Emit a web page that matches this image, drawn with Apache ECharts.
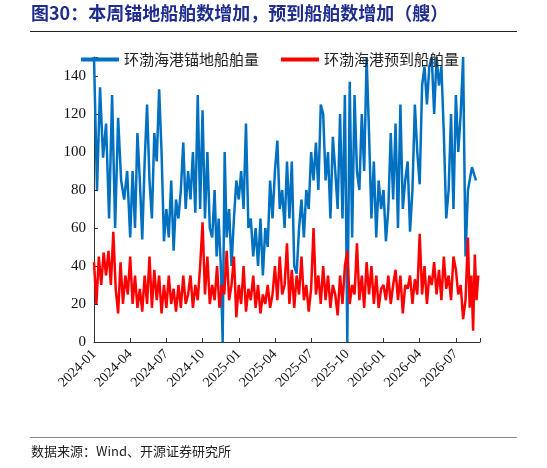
<!DOCTYPE html>
<html><head><meta charset="utf-8">
<script src="https://cdn.jsdelivr.net/npm/echarts@6/dist/echarts.min.js"></script>
<style>html,body{margin:0;padding:0;background:#fff}#chart{width:547px;height:468px}</style>
</head><body><div id="chart"></div>
<script>
// 月份起点 2024-01，每个子数组为当月数值（按月内等距排列）
var months = ["2024-01","2024-02","2024-03","2024-04","2024-05","2024-06","2024-07","2024-08","2024-09","2024-10","2024-11","2024-12",
  "2025-01","2025-02","2025-03","2025-04","2025-05","2025-06","2025-07","2025-08","2025-09","2025-10","2025-11","2025-12",
  "2026-01","2026-02","2026-03","2026-04","2026-05","2026-06","2026-07","2026-08"]
// 环渤海港锚地船舶量
var anchorage = [
  [150,80,134,97],[115,65,130,60],[118,85,75,90],[55,90,60,110,85],[54,95,125,85,65],[110,95,133,100,53],
  [70,55,85,48,75],[65,80,105,70,90],[75,100,68,130,70],[122,65,100,60,55],[80,45,65,42,0,100],[55,70,40,65,85],
  [75,90,70,115,60],[65,45,60,40,65],[35,60,50,85,65],[90,106,70,80,60],[95,65,95,40,36],[60,75,55,80,70],
  [100,85,105,80,125],[120,85,100,65,108],[90,70,120,65,130],[0,137,55,130,90],[80,120,90,150,110],[65,95,55,85,70],
  [80,53,70,110,75],[115,60,125,70,85],[95,58,80,125,100],[83,135,145,125,145],[150,120,150,135,145],[110,65,80,120,70],
  [130,100,120,150,45],[80,92,85]
]
// 环渤海港预到船舶量
var arriving = [
  [42,20,45,30,47],[35,48,30,58,28],[15,42,20,35,25],[45,20,35,18,28],[16,35,20,45,18],[38,22,35,15,30],
  [18,35,20,28,16],[30,18,35,20,25],[35,18,30,22,40],[63,25,45,20,30],[22,40,18,30,25],[48,22,30,45,13],
  [30,20,40,16,28],[22,35,18,30,15],[25,20,30,18,25],[40,22,45,25,30],[52,20,38,18,35],[25,45,22,30,16],
  [28,60,25,35,20],[40,22,35,18,30],[25,14,35,20,40],[48,20,30,25,52],[22,35,18,42,25],[40,20,35,18,28],
  [30,22,35,20,30],[38,22,35,15,30],[28,35,20,33,25],[57,25,40,20,35],[30,42,25,38,22],[45,28,35,22,45],
  [38,25,30,12,22],[55,18,35,6,46,22,35]
]
function flatten(arr) {
  var out = []
  arr.forEach(function (vals, m) {
    vals.forEach(function (v, i) { out.push([m + i / vals.length, v]) })
  })
  return out
}
var chart = echarts.init(document.getElementById("chart"))
var serif = "'Liberation Serif', 'Times New Roman', serif"
var cjk = "'Noto Sans CJK SC', sans-serif"
chart.setOption({
  animation: false,
  grid: { left: 94, right: 67, top: 57, bottom: 126 },
  legend: {
    top: 47, left: 76, itemGap: 22, itemWidth: 38, itemHeight: 4,
    icon: "rect",
    textStyle: { fontFamily: cjk, fontSize: 15, color: "#222" },
    data: ["环渤海港锚地船舶量", "环渤海港预到船舶量"]
  },
  xAxis: {
    type: "value", min: 0, max: 32, interval: 3,
    axisLine: { lineStyle: { color: "#333" } },
    axisTick: { inside: true, length: 4, lineStyle: { color: "#333" } },
    splitLine: { show: false },
    axisLabel: {
      rotate: 45, fontFamily: serif, fontSize: 14, color: "#111", margin: 10,
      formatter: function (v) {
        if (v > 30) return ""
        var y = 2024 + Math.floor(v / 12), m = v % 12 + 1
        return y + "-" + (m < 10 ? "0" + m : m)
      }
    }
  },
  yAxis: {
    type: "value", min: 0, max: 150, interval: 20,
    axisLine: { show: true, lineStyle: { color: "#333" } },
    axisTick: { show: true, inside: true, length: 4 },
    splitLine: { show: false },
    axisLabel: {
      fontFamily: serif, fontSize: 15, color: "#111",
      formatter: function (v) { return v > 140 ? "" : v }
    }
  },
  series: [
    { name: "环渤海港锚地船舶量", type: "line", showSymbol: false, data: flatten(anchorage),
      lineStyle: { color: "#0070c0", width: 2.5 }, itemStyle: { color: "#0070c0" } },
    { name: "环渤海港预到船舶量", type: "line", showSymbol: false, data: flatten(arriving),
      lineStyle: { color: "#ff0000", width: 2.5 }, itemStyle: { color: "#ff0000" } }
  ],
  graphic: [
    { type: "text", left: 31, top: 4, style: { text: "图30：本周锚地船舶数增加，预到船舶数增加（艘）", fill: "#1f2d8f", font: "bold 18px " + cjk } },
    { type: "rect", shape: { x: 30, y: 31, width: 487, height: 1 }, style: { fill: "#222" } },
    { type: "rect", shape: { x: 30, y: 437, width: 487, height: 1 }, style: { fill: "#888" } },
    { type: "text", left: 31, top: 445, style: { text: "数据来源：Wind、开源证券研究所", fill: "#222", font: "13px " + cjk } }
  ]
})
</script></body></html>
